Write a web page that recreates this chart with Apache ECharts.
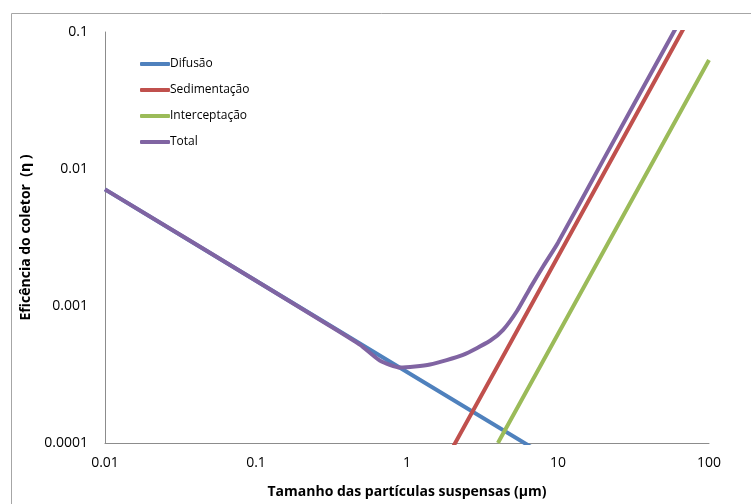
<!DOCTYPE html>
<html><head><meta charset="utf-8">
<script src="https://cdn.jsdelivr.net/npm/echarts@6/dist/echarts.min.js"></script>
<style>html,body{margin:0;padding:0;background:#fff}#c{width:751px;height:504px}</style>
</head><body><div id="c"></div>
<script>
// Data (particle size in µm, collector efficiency)
const seriesNames = ['Difusão', 'Sedimentação', 'Interceptação', 'Total'];
const difusao = [[0.01, 0.0071], [0.1, 0.00153], [1, 0.00033], [10, 0.0000711]];
const sedimentacao = [[2, 0.000092], [5, 0.000575], [10, 0.0023], [20, 0.0092], [50, 0.0575], [100, 0.23]];
const interceptacao = [[4, 0.0001], [10, 0.000625], [20, 0.0025], [50, 0.0156], [100, 0.0625]];
const total = [[0.01, 0.0071], [0.1, 0.00153], [0.3, 0.00073], [0.49, 0.00052], [0.66, 0.0004], [0.9, 0.000356],
  [1.42, 0.000374], [2.35, 0.00044], [3.55, 0.000557], [4.33, 0.00067], [5.35, 0.00092], [6.53, 0.00135],
  [8, 0.00196], [10, 0.0029], [20, 0.0117], [50, 0.0733], [100, 0.293]];
const xTickLabels = ['0.01', '0.1', '1', '10', '100'];
const yTickLabels = ['0.0001', '0.001', '0.01', '0.1'];
const colors = ['#4F81BD', '#C0504D', '#9BBB59', '#8064A2'];

const chart = echarts.init(document.getElementById('c'));
const font = '"Open Sans", Lato, sans-serif';
function mk(name, data, color, smooth) {
  return { name, type: 'line', data, symbol: 'none', smooth: smooth, clip: true,
    lineStyle: { color, width: 4 }, itemStyle: { color } };
}
chart.setOption({
  animation: false,
  graphic: [{ type: 'rect', shape: { x: 11.5, y: 13.5, width: 800, height: 600 },
    style: { fill: 'none', stroke: '#a6a6a6', lineWidth: 1 }, silent: true }],
  grid: { left: 105, right: 42, top: 32, bottom: 58 },
  legend: {
    left: 135, top: 53, orient: 'vertical', itemWidth: 30, itemHeight: 4, itemGap: 14,
    icon: 'roundRect',
    data: seriesNames,
    textStyle: { fontFamily: font, fontSize: 12, color: '#000', padding: [0, 0, 0, -5] }
  },
  xAxis: {
    type: 'log', logBase: 10, min: 0.01, max: 100,
    name: 'Tamanho das partículas suspensas (µm)', nameLocation: 'middle', nameGap: 42,
    nameTextStyle: { fontFamily: font, fontSize: 14, fontWeight: 'bold', color: '#000' },
    axisLine: { lineStyle: { color: '#8c8c8c', width: 1 } },
    axisTick: { show: false }, splitLine: { show: false },
    axisLabel: { fontFamily: font, fontSize: 14, color: '#000', margin: 13,
      formatter: v => xTickLabels[Math.round(Math.log10(v)) + 2] }
  },
  yAxis: {
    type: 'log', logBase: 10, min: 0.0001, max: 0.1,
    name: 'Eficência do coletor  (η )', nameLocation: 'middle', nameGap: 67,
    nameTextStyle: { fontFamily: font, fontSize: 14, fontWeight: 'bold', color: '#000' },
    axisLine: { show: true, lineStyle: { color: '#8c8c8c', width: 1 } },
    axisTick: { show: false }, splitLine: { show: false },
    axisLabel: { fontFamily: font, fontSize: 14, color: '#000', margin: 17,
      formatter: v => yTickLabels[Math.round(Math.log10(v)) + 4] }
  },
  series: [
    mk(seriesNames[0], difusao, colors[0], false),
    mk(seriesNames[1], sedimentacao, colors[1], false),
    mk(seriesNames[2], interceptacao, colors[2], false),
    mk(seriesNames[3], total, colors[3], 0.2)
  ]
});
</script></body></html>
